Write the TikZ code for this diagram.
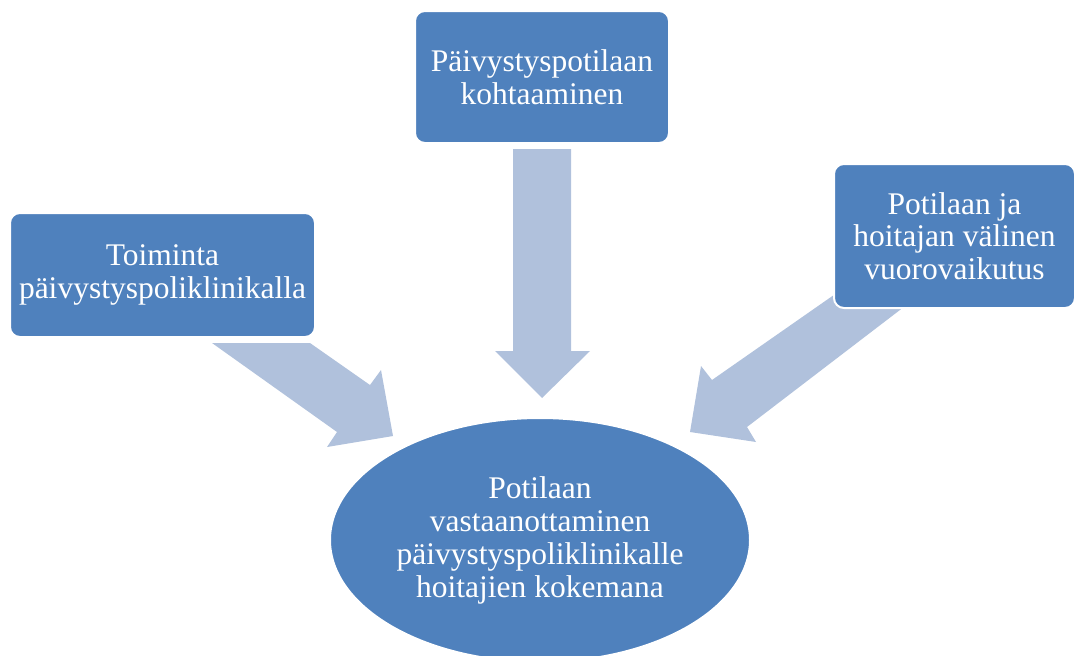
\documentclass[tikz,border=0pt]{standalone}
\usepackage{fontspec}
\setmainfont{Liberation Serif}
\usetikzlibrary{shapes.geometric}
\definecolor{boxblue}{HTML}{4F81BD}
\definecolor{arrowblue}{HTML}{B0C1DC}
\tikzset{
  box/.style={rectangle, rounded corners=10pt, fill=boxblue, draw=white, line width=2pt,
    text=white, align=center, inner sep=0pt, font=\fontsize{31.5}{32.5}\selectfont},
  oval/.style={ellipse, fill=boxblue, draw=white, line width=2pt, text=white, align=center,
    inner sep=0pt, font=\fontsize{31.5}{33}\selectfont},
  bigarrow/.style={fill=arrowblue, draw=none}
}
\begin{document}
\begin{tikzpicture}[x=1pt,y=-1pt]
\useasboundingbox (0,0) rectangle (1077,656);
% arrows (drawn first)
\fill[bigarrow] (513,149) -- (571,149) -- (571,351) -- (590,351) -- (542,398) -- (495,351) -- (513,351) -- cycle;
\fill[bigarrow] (212,343) -- (310,343) -- (370,385) -- (381,370) -- (393,436) -- (327,447) -- (337,432) -- cycle;
\fill[bigarrow] (841,290) -- (913,300) -- (747,427) -- (756,442) -- (690,432) -- (701,366) -- (712,380) -- cycle;
% boxes
\node[box, minimum width=254pt, minimum height=132pt] (top) at (542,77) {Päivystyspotilaan\\kohtaaminen};
\node[box, minimum width=305pt, minimum height=124pt] (left) at (162.5,275) {Toiminta\\päivystyspoliklinikalla};
\node[box, minimum width=241pt, minimum height=144pt] (right) at (954.5,236) {Potilaan ja\\hoitajan välinen\\vuorovaikutus};
\node[oval, minimum width=420pt, minimum height=244pt] (goal) at (540,540) {Potilaan\\vastaanottaminen\\päivystyspoliklinikalle\\hoitajien kokemana};
\end{tikzpicture}
\end{document}
